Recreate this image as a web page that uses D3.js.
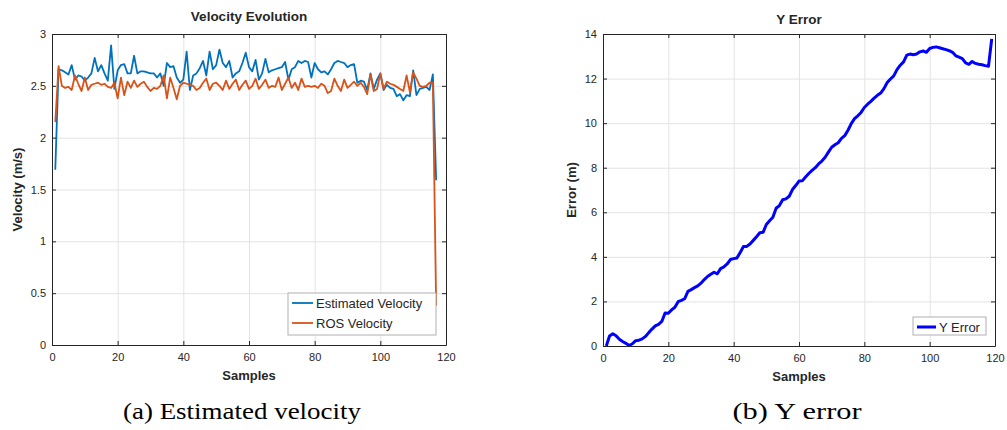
<!DOCTYPE html>
<html>
<head>
<meta charset="utf-8">
<script src="https://cdn.jsdelivr.net/npm/d3@7"></script>
<style>
  body { margin: 0; background: #fff; }
  svg text { font-family: "Liberation Sans", Arial, sans-serif; fill: #262626; }
  .caption { font-family: "Liberation Serif", "Times New Roman", serif; fill: #000; }
</style>
</head>
<body>
<svg id="fig" width="1007" height="430"></svg>
<script>
// sample index 1..117
var estVelocity = [1.69,2.66,2.65,2.63,2.61,2.70,2.56,2.60,2.59,2.55,2.58,2.62,2.77,2.64,2.70,2.62,2.55,2.89,2.47,2.65,
  2.70,2.71,2.62,2.62,2.79,2.62,2.64,2.64,2.63,2.62,2.62,2.58,2.62,2.50,2.72,2.68,2.69,2.58,2.53,2.56,
  2.83,2.46,2.60,2.62,2.67,2.74,2.60,2.83,2.66,2.70,2.85,2.72,2.68,2.74,2.58,2.62,2.64,2.72,2.82,2.68,
  2.64,2.75,2.56,2.62,2.76,2.63,2.65,2.66,2.67,2.68,2.73,2.56,2.66,2.68,2.74,2.72,2.74,2.73,2.58,2.72,
  2.66,2.63,2.64,2.61,2.66,2.72,2.74,2.73,2.72,2.68,2.70,2.71,2.53,2.55,2.54,2.46,2.62,2.47,2.56,2.62,
  2.46,2.51,2.48,2.47,2.40,2.42,2.36,2.41,2.40,2.65,2.41,2.47,2.48,2.49,2.46,2.61,1.59];
var rosVelocity = [2.15,2.69,2.50,2.48,2.49,2.46,2.60,2.52,2.45,2.58,2.46,2.51,2.52,2.53,2.51,2.52,2.49,2.48,2.53,2.38,
  2.58,2.41,2.54,2.48,2.55,2.49,2.52,2.54,2.49,2.45,2.48,2.47,2.50,2.60,2.38,2.58,2.48,2.37,2.50,2.53,
  2.52,2.51,2.50,2.46,2.48,2.53,2.57,2.46,2.52,2.53,2.50,2.46,2.55,2.47,2.52,2.56,2.46,2.51,2.55,2.47,
  2.50,2.57,2.47,2.51,2.56,2.48,2.50,2.49,2.58,2.46,2.52,2.58,2.48,2.53,2.46,2.57,2.49,2.50,2.49,2.50,
  2.48,2.52,2.50,2.43,2.45,2.57,2.50,2.45,2.56,2.48,2.51,2.54,2.50,2.53,2.49,2.42,2.61,2.45,2.47,2.62,
  2.47,2.54,2.52,2.51,2.49,2.47,2.45,2.60,2.44,2.63,2.57,2.50,2.49,2.50,2.53,2.53,0.38];
// sample index 1..119
var yError = [0.00,0.45,0.55,0.46,0.30,0.20,0.12,0.02,0.10,0.24,0.26,0.32,0.43,0.60,0.76,0.90,0.97,1.10,1.48,1.47,
  1.62,1.74,1.99,2.05,2.12,2.45,2.53,2.62,2.70,2.82,2.98,3.12,3.22,3.31,3.24,3.47,3.55,3.68,3.88,3.92,
  3.95,4.20,4.46,4.47,4.58,4.74,4.90,5.08,5.10,5.45,5.62,5.78,6.18,6.30,6.56,6.60,6.72,7.02,7.20,7.40,
  7.41,7.58,7.74,7.88,8.00,8.17,8.30,8.47,8.70,8.92,9.03,9.12,9.32,9.44,9.68,9.98,10.20,10.33,10.48,10.70,
  10.85,10.98,11.12,11.25,11.35,11.55,11.82,11.98,12.12,12.40,12.60,12.75,13.05,13.10,13.07,13.10,13.20,13.24,13.18,13.35,
  13.40,13.42,13.38,13.34,13.30,13.25,13.18,13.02,12.96,12.90,12.70,12.64,12.77,12.68,12.64,12.62,12.58,12.55,13.78];

var xTicks = [0,20,40,60,80,100,120];
var velTicks = [0,0.5,1,1.5,2,2.5,3];
var errTicks = [0,2,4,6,8,10,12,14];

var svg = d3.select("#fig");

function drawPanel(p) {
  var g = svg.append("g");
  var x = d3.scaleLinear().domain([0,120]).range([p.left,p.right]);
  var y = d3.scaleLinear().domain(p.yDomain).range([p.bottom,p.top]);
  var w = p.right-p.left, h = p.bottom-p.top;

  // grid
  g.append("g").attr("transform","translate(0,"+p.bottom+")")
    .call(d3.axisBottom(x).tickValues(xTicks).tickSize(-h).tickFormat(""))
    .call(function(a){ a.select(".domain").remove(); a.selectAll("line").attr("stroke","#e3e3e3"); });
  g.append("g").attr("transform","translate("+p.left+",0)")
    .call(d3.axisLeft(y).tickValues(p.yTicks).tickSize(-w).tickFormat(""))
    .call(function(a){ a.select(".domain").remove(); a.selectAll("line").attr("stroke","#e3e3e3"); });

  // lines
  p.series.forEach(function(s){
    var line = d3.line().x(function(d,i){ return x(i+1); }).y(function(d){ return y(d); });
    g.append("path").datum(s.values).attr("d",line).attr("fill","none")
      .attr("stroke",s.color).attr("stroke-width",s.width).attr("stroke-linejoin","round");
  });

  // axes with inward ticks on all sides
  var bottomAx = g.append("g").attr("transform","translate(0,"+p.bottom+")")
    .call(d3.axisBottom(x).tickValues(xTicks).tickSize(-4).tickPadding(8).tickSizeOuter(0));
  var leftAx = g.append("g").attr("transform","translate("+p.left+",0)")
    .call(d3.axisLeft(y).tickValues(p.yTicks).tickSize(-4).tickPadding(6).tickSizeOuter(0));
  g.append("g").attr("transform","translate(0,"+p.top+")")
    .call(d3.axisTop(x).tickValues(xTicks).tickSize(-4).tickFormat("").tickSizeOuter(0));
  g.append("g").attr("transform","translate("+p.right+",0)")
    .call(d3.axisRight(y).tickValues(p.yTicks).tickSize(-4).tickFormat("").tickSizeOuter(0));
  g.selectAll(".domain").attr("stroke","#262626");
  g.selectAll(".tick line").filter(function(){ return d3.select(this).attr("stroke") !== "#e3e3e3"; })
    .attr("stroke","#262626");
  [bottomAx,leftAx].forEach(function(a){
    a.selectAll("text").attr("font-size","11px").attr("fill","#262626")
      .attr("font-family","Liberation Sans, Arial, sans-serif");
  });
  leftAx.selectAll("text").text(function(d){ return d3.format("")(d); });

  // labels
  var cx = (p.left+p.right)/2;
  g.append("text").attr("x",cx).attr("y",p.titleY).attr("text-anchor","middle")
    .attr("font-size","13.5px").attr("font-weight","bold").attr("fill","#000").text(p.title);
  g.append("text").attr("x",cx).attr("y",p.bottom+35).attr("text-anchor","middle")
    .attr("font-size","13px").attr("font-weight","bold").attr("fill","#000").text("Samples");
  g.append("text").attr("transform","translate("+p.yLabelX+","+(p.top+p.bottom)/2+") rotate(-90)")
    .attr("text-anchor","middle").attr("font-size","13px").attr("font-weight","bold")
    .attr("fill","#000").text(p.yLabel);

  // legend
  var lg = g.append("g");
  lg.append("rect").attr("x",p.legend.x).attr("y",p.legend.y).attr("width",p.legend.w)
    .attr("height",p.legend.h).attr("fill","#fff").attr("stroke","#b0b0b0").attr("stroke-width",1);
  p.series.forEach(function(s,i){
    var ly = p.legend.y + 10 + i*20;
    lg.append("line").attr("x1",p.legend.x+4).attr("x2",p.legend.x+p.legend.line)
      .attr("y1",ly).attr("y2",ly).attr("stroke",s.color).attr("stroke-width",s.width);
    lg.append("text").attr("x",p.legend.x+p.legend.line+3).attr("y",ly+4.5)
      .attr("font-size","13px").attr("fill","#000").text(s.name);
  });

  svg.append("text").attr("class","caption").attr("x",p.captionX).attr("y",419)
    .attr("text-anchor","middle").attr("font-size","24px").attr("textLength",p.captionW)
    .attr("lengthAdjust","spacingAndGlyphs").text(p.caption);
}

drawPanel({
  left:52, right:446, top:34, bottom:345, yDomain:[0,3], yTicks:velTicks,
  title:"Velocity Evolution", titleY:21, yLabel:"Velocity (m/s)", yLabelX:22,
  series:[{name:"Estimated Velocity", values:estVelocity, color:"#0072BD", width:1.8},
          {name:"ROS Velocity", values:rosVelocity, color:"#D95319", width:1.8}],
  legend:{x:288, y:293, w:148, h:42, line:25},
  caption:"(a) Estimated velocity", captionX:242, captionW:238
});
drawPanel({
  left:603, right:995, top:34, bottom:346, yDomain:[0,14], yTicks:errTicks,
  title:"Y Error", titleY:24, yLabel:"Error (m)", yLabelX:576,
  series:[{name:"Y Error", values:yError, color:"#0000FF", width:3}],
  legend:{x:913, y:317, w:73, h:18, line:23},
  caption:"(b) Y error", captionX:797, captionW:129
});
</script>
</body>
</html>
